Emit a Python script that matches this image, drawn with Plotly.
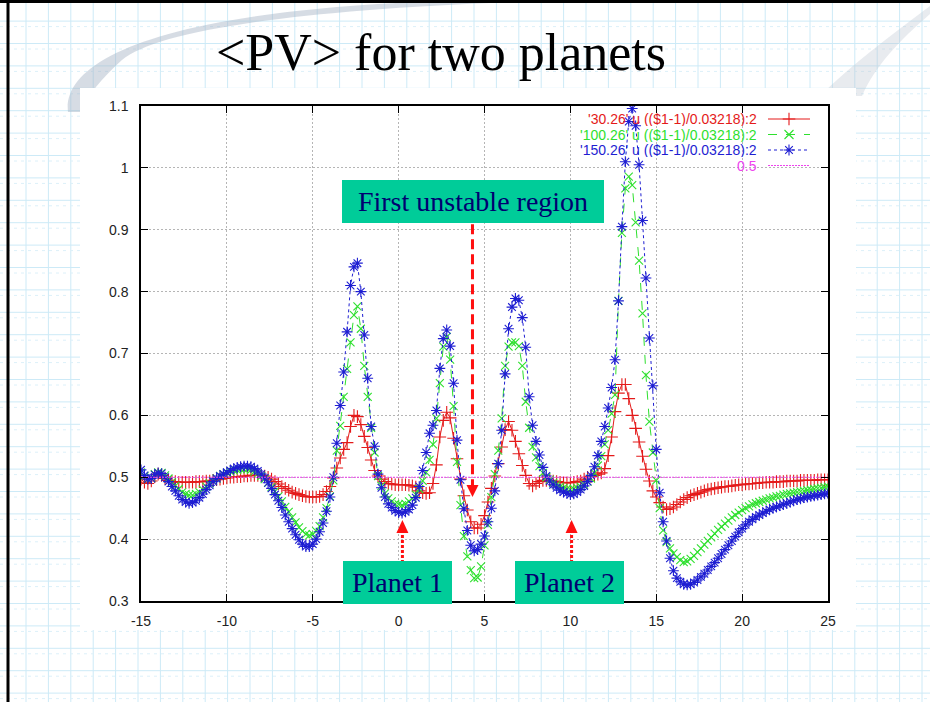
import numpy as np
import plotly.graph_objects as go

# ---------------- data ----------------
# x column: (($1-1)/0.03218), sampled every 0.2 from -15 to 25
x_start, x_step, n_pts = -15.0, 0.2, 201
x_vals = np.round(x_start + x_step * np.arange(n_pts), 1)

# '30.26' (red)
pv_30 = [
    0.497, 0.492, 0.490, 0.494, 0.501, 0.505, 0.503, 0.498, 0.495, 0.493,
    0.493, 0.492, 0.492, 0.492, 0.492, 0.492, 0.493, 0.493, 0.493, 0.494,
    0.494, 0.495, 0.496, 0.497, 0.498, 0.499, 0.500, 0.500, 0.501, 0.501,
    0.502, 0.502, 0.503, 0.503, 0.503, 0.503, 0.502, 0.500, 0.497, 0.493,
    0.489, 0.485, 0.482, 0.479, 0.476, 0.474, 0.472, 0.470, 0.469, 0.468,
    0.468, 0.468, 0.469, 0.472, 0.477, 0.485, 0.499, 0.515, 0.531, 0.545,
    0.556, 0.582, 0.600, 0.598, 0.585, 0.566, 0.548, 0.528, 0.511, 0.502,
    0.497, 0.493, 0.490, 0.489, 0.488, 0.488, 0.488, 0.488, 0.487, 0.486,
    0.484, 0.478, 0.475, 0.474, 0.475, 0.490, 0.520, 0.565, 0.592, 0.605,
    0.596, 0.563, 0.530, 0.497, 0.470, 0.447, 0.428, 0.418, 0.418, 0.424,
    0.438, 0.460, 0.482, 0.502, 0.522, 0.549, 0.577, 0.590, 0.576, 0.558,
    0.538, 0.519, 0.503, 0.490, 0.486, 0.490, 0.493, 0.495, 0.495, 0.495,
    0.494, 0.493, 0.492, 0.491, 0.491, 0.491, 0.492, 0.493, 0.494, 0.497,
    0.500, 0.501, 0.503, 0.505, 0.507, 0.514, 0.535, 0.565, 0.606, 0.636,
    0.650, 0.650, 0.627, 0.600, 0.579, 0.557, 0.534, 0.513, 0.494, 0.478,
    0.468, 0.459, 0.452, 0.448, 0.449, 0.452, 0.456, 0.460, 0.464, 0.467,
    0.470, 0.472, 0.474, 0.476, 0.478, 0.480, 0.481, 0.482, 0.483, 0.484,
    0.485, 0.485, 0.486, 0.487, 0.488, 0.488, 0.489, 0.489, 0.490, 0.490,
    0.491, 0.491, 0.492, 0.492, 0.492, 0.493, 0.493, 0.493, 0.494, 0.494,
    0.494, 0.494, 0.495, 0.495, 0.495, 0.495, 0.495, 0.496, 0.496, 0.496,
    0.496,
]

# '100.26' (green)
pv_100 = [
    0.508, 0.502, 0.497, 0.499, 0.505, 0.508, 0.507, 0.503, 0.498, 0.492,
    0.486, 0.481, 0.476, 0.473, 0.471, 0.471, 0.473, 0.476, 0.480, 0.485,
    0.490, 0.494, 0.498, 0.502, 0.505, 0.507, 0.509, 0.511, 0.512, 0.513,
    0.513, 0.513, 0.512, 0.509, 0.506, 0.502, 0.497, 0.491, 0.484, 0.477,
    0.469, 0.461, 0.452, 0.444, 0.435, 0.427, 0.419, 0.413, 0.408, 0.406,
    0.408, 0.413, 0.421, 0.435, 0.450, 0.469, 0.495, 0.543, 0.583, 0.630,
    0.675, 0.718, 0.762, 0.776, 0.740, 0.680, 0.630, 0.580, 0.540, 0.502,
    0.486, 0.474, 0.466, 0.461, 0.457, 0.456, 0.455, 0.457, 0.461, 0.466,
    0.472, 0.481, 0.494, 0.508, 0.528, 0.553, 0.595, 0.652, 0.711, 0.727,
    0.690, 0.615, 0.525, 0.455, 0.405, 0.372, 0.350, 0.337, 0.338, 0.356,
    0.390, 0.423, 0.468, 0.505, 0.543, 0.595, 0.680, 0.711, 0.718, 0.718,
    0.712, 0.680, 0.622, 0.580, 0.549, 0.532, 0.518, 0.507, 0.500, 0.496,
    0.491, 0.488, 0.485, 0.483, 0.481, 0.480, 0.481, 0.483, 0.485, 0.488,
    0.493, 0.498, 0.507, 0.519, 0.534, 0.553, 0.576, 0.603, 0.633, 0.785,
    0.895, 0.967, 0.986, 0.972, 0.912, 0.850, 0.765, 0.665, 0.590, 0.540,
    0.495, 0.450, 0.414, 0.395, 0.385, 0.377, 0.371, 0.366, 0.363, 0.364,
    0.368, 0.373, 0.379, 0.385, 0.391, 0.397, 0.403, 0.409, 0.415, 0.420,
    0.425, 0.430, 0.435, 0.439, 0.443, 0.447, 0.450, 0.453, 0.456, 0.458,
    0.460, 0.462, 0.464, 0.466, 0.467, 0.469, 0.470, 0.472, 0.473, 0.474,
    0.475, 0.476, 0.477, 0.478, 0.479, 0.480, 0.481, 0.482, 0.483, 0.484,
    0.485,
]

# '150.26' (blue)
pv_150 = [
    0.512, 0.503, 0.497, 0.498, 0.504, 0.507, 0.506, 0.500, 0.493, 0.485,
    0.478, 0.470, 0.464, 0.460, 0.458, 0.459, 0.462, 0.467, 0.473, 0.480,
    0.487, 0.493, 0.498, 0.502, 0.505, 0.508, 0.511, 0.514, 0.516, 0.517,
    0.518, 0.518, 0.517, 0.514, 0.510, 0.505, 0.499, 0.491, 0.482, 0.472,
    0.462, 0.451, 0.439, 0.428, 0.417, 0.407, 0.399, 0.392, 0.388, 0.388,
    0.392, 0.400, 0.412, 0.426, 0.445, 0.468, 0.500, 0.555, 0.616, 0.670,
    0.735, 0.810, 0.840, 0.846, 0.800, 0.730, 0.660, 0.582, 0.550, 0.505,
    0.483, 0.468, 0.457, 0.451, 0.446, 0.443, 0.442, 0.444, 0.448, 0.455,
    0.467, 0.485, 0.511, 0.540, 0.571, 0.584, 0.608, 0.676, 0.724, 0.738,
    0.712, 0.652, 0.560, 0.496, 0.449, 0.414, 0.390, 0.381, 0.383, 0.392,
    0.405, 0.428, 0.450, 0.478, 0.522, 0.576, 0.667, 0.740, 0.775, 0.789,
    0.786, 0.758, 0.710, 0.630, 0.584, 0.558, 0.536, 0.516, 0.502, 0.494,
    0.488, 0.483, 0.479, 0.476, 0.474, 0.472, 0.473, 0.476, 0.480, 0.486,
    0.493, 0.503, 0.517, 0.535, 0.558, 0.582, 0.612, 0.645, 0.690, 0.785,
    0.905, 1.010, 1.075, 1.096, 1.068, 1.005, 0.915, 0.822, 0.725, 0.648,
    0.545, 0.475, 0.428, 0.397, 0.369, 0.349, 0.337, 0.331, 0.327, 0.326,
    0.327, 0.330, 0.334, 0.339, 0.344, 0.350, 0.356, 0.362, 0.369, 0.376,
    0.383, 0.390, 0.397, 0.404, 0.411, 0.417, 0.423, 0.428, 0.432, 0.436,
    0.439, 0.442, 0.445, 0.448, 0.450, 0.452, 0.454, 0.456, 0.458, 0.460,
    0.462, 0.464, 0.465, 0.467, 0.468, 0.469, 0.470, 0.471, 0.472, 0.473,
    0.474,
]

# constant function "0.5"
ref_x = [-15, 25]
ref_y = [0.5, 0.5]

x_ticks = [-15, -10, -5, 0, 5, 10, 15, 20, 25]
x_tick_labels = ["-15", "-10", "-5", "0", "5", "10", "15", "20", "25"]
y_ticks = [0.3, 0.4, 0.5, 0.6, 0.7, 0.8, 0.9, 1.0, 1.1]
y_tick_labels = ["0.3", "0.4", "0.5", "0.6", "0.7", "0.8", "0.9", "1", "1.1"]

series_names = ["'30.26' u (($1-1)/0.03218):2",
                "'100.26' u (($1-1)/0.03218):2",
                "'150.26' u (($1-1)/0.03218):2",
                "0.5"]

title_text = "&lt;PV&gt; for two planets"
box_texts = ["First unstable region", "Planet 1", "Planet 2"]

assert len(pv_30) == len(pv_100) == len(pv_150) == n_pts

# ---------------- styling ----------------
RED, GREEN, BLUE, MAG = "#e41a1a", "#2ee02e", "#1e1ed2", "#ee44ee"
TEAL, NAVY = "#00cc99", "#000070"
W, H = 930, 702
L, R, T, B = 141, 828, 106, 601  # plot area in pixels


def PX(p):
    return (p - L) / (R - L)


def PY(p):
    return (B - p) / (B - T)


fig = go.Figure()

styles = [
    (pv_30, RED, "solid", "cross-thin-open", 9),
    (pv_100, GREEN, "dash", "x-thin-open", 8),
    (pv_150, BLUE, "dot", "asterisk-open", 9),
]
for ys, col, dash, sym, size in styles:
    fig.add_trace(go.Scatter(
        x=x_vals, y=ys, mode="lines+markers",
        line=dict(color=col, width=1, dash=dash),
        marker=dict(symbol=sym, size=size, color=col,
                    line=dict(color=col, width=1.1)),
        showlegend=False, hoverinfo="skip"))

fig.add_trace(go.Scatter(x=ref_x, y=ref_y, mode="lines",
                         line=dict(color=MAG, width=1, dash="2px,1px"),
                         showlegend=False, hoverinfo="skip"))

# ---------------- gnuplot-style key (text left, sample right) ----------------
key_rows = [PY(119), PY(134.5), PY(150), PY(165.5)]
key_cols = [RED, GREEN, BLUE, MAG]
key_dash = ["solid", "dash", "dot", "2px,1px"]
key_sym = ["cross-thin-open", "x-thin-open", "asterisk-open", None]
x_l, x_r, x_m = PX(768), PX(810), PX(789)
annotations = []
for name, yk, col, dsh, sym in zip(series_names, key_rows, key_cols, key_dash, key_sym):
    annotations.append(dict(text=name, x=PX(758), y=yk, xref="paper", yref="paper",
                            xanchor="right", yanchor="middle", showarrow=False,
                            borderpad=0, height=14,
                            font=dict(family="Liberation Sans, Arial", size=14, color=col)))
    fig.add_trace(go.Scatter(x=[x_l, x_r], y=[yk, yk], xaxis="x2", yaxis="y2",
                             mode="lines", line=dict(color=col, width=1, dash=dsh),
                             showlegend=False, hoverinfo="skip"))
    if sym:
        fig.add_trace(go.Scatter(x=[x_m], y=[yk], xaxis="x2", yaxis="y2", mode="markers",
                                 marker=dict(symbol=sym, size=9, color=col,
                                             line=dict(color=col, width=1.1)),
                                 showlegend=False, hoverinfo="skip"))

# ---------------- teal text boxes ----------------
boxes = [
    (box_texts[0], (342 + 604) / 2, (180 + 223) / 2, 262, 43),
    (box_texts[1], (343 + 452) / 2, (561 + 604) / 2, 109, 43),
    (box_texts[2], (515 + 624) / 2, (561 + 604) / 2, 109, 43),
]
for txt, cx, cy, bw, bh in boxes:
    annotations.append(dict(text=txt, x=PX(cx), y=PY(cy), xref="paper", yref="paper",
                            xanchor="center", yanchor="middle", showarrow=False,
                            width=bw, height=bh, bgcolor=TEAL, borderpad=0, borderwidth=0,
                            align="center", valign="middle",
                            font=dict(family="Liberation Serif, Times New Roman", size=28,
                                      color=NAVY)))

# ---------------- background shapes (slide) ----------------
shapes = []
grid_col = "#cdeaf7"
gx = 26.0
while gx < W:
    shapes.append(dict(type="line", xref="paper", yref="paper", layer="below",
                       x0=PX(gx), x1=PX(gx), y0=PY(0), y1=PY(H),
                       line=dict(color=grid_col, width=1)))
    gx += 22.4
gy = 21.1
while gy < H:
    shapes.append(dict(type="line", xref="paper", yref="paper", layer="below",
                       x0=PX(0), x1=PX(W), y0=PY(gy), y1=PY(gy),
                       line=dict(color=grid_col, width=1)))
    shapes.append(dict(type="line", xref="paper", yref="paper", layer="below",
                       x0=PX(0), x1=PX(W), y0=PY(gy + 5.5), y1=PY(gy + 5.5),
                       line=dict(color="#dcf0f9", width=1, dash="3px,4px")))
    gy += 22.4


def pth(cmds):
    out = []
    for c in cmds:
        if isinstance(c, str):
            out.append(c)
        else:
            out.append(f"{PX(c[0]):.4f},{PY(c[1]):.4f}")
    return " ".join(out)


swoosh = pth(["M", (68, 112), "C", (62, 60), (160, 8), (470, 0), "L", (585, 0),
              "C", (320, 6), (160, 28), (122, 60), "C", (100, 80), (88, 95), (82, 112), "Z"])
shapes.append(dict(type="path", xref="paper", yref="paper", layer="below", path=swoosh,
                   fillcolor="rgba(165,178,196,0.45)", line=dict(width=0)))
swoosh2 = pth(["M", (930, 14), "C", (900, 40), (875, 66), (862, 96), "L", (820, 96),
               "C", (850, 66), (890, 36), (930, 6), "Z"])
shapes.append(dict(type="path", xref="paper", yref="paper", layer="below", path=swoosh2,
                   fillcolor="rgba(190,198,210,0.35)", line=dict(width=0)))

# white panel behind the chart
shapes.append(dict(type="rect", xref="paper", yref="paper", layer="below",
                   x0=PX(80), x1=PX(856), y0=PY(88), y1=PY(630),
                   fillcolor="white", line=dict(width=0)))
# slide border
shapes.append(dict(type="line", xref="paper", yref="paper", layer="below",
                   x0=PX(0), x1=PX(W), y0=PY(1.5), y1=PY(1.5),
                   line=dict(color="black", width=3)))
shapes.append(dict(type="line", xref="paper", yref="paper", layer="below",
                   x0=PX(8), x1=PX(8), y0=PY(0), y1=PY(H),
                   line=dict(color="black", width=3)))

# ---------------- red arrows ----------------
hw = 6 / ((R - L) / 40.0)  # half width of arrow head in data units
arrows = [
    (4.3, 0.909, 0.4874, 0.468, "10px,5px", 3),
    (0.22, 0.3533, 0.4099, 0.4309, "3px,2px", 3),
    (10.07, 0.3533, 0.4099, 0.4309, "3px,2px", 3),
]
for ax_, ys_, yb_, yt_, dsh, wd in arrows:
    shapes.append(dict(type="line", xref="x", yref="y", layer="above",
                       x0=ax_, x1=ax_, y0=ys_, y1=yb_,
                       line=dict(color="#ff1010", width=wd, dash=dsh)))
    shapes.append(dict(type="path", xref="x", yref="y", layer="above",
                       path=f"M {ax_ - hw},{yb_} L {ax_ + hw},{yb_} L {ax_},{yt_} Z",
                       fillcolor="#ff1010", line=dict(width=0)))

tick_font = dict(family="Liberation Sans, Arial", size=14, color="#222222")
fig.update_layout(
    width=W, height=H, autosize=False,
    margin=dict(l=L, r=W - R, t=T, b=H - B, pad=0),
    paper_bgcolor="white", plot_bgcolor="rgba(0,0,0,0)",
    showlegend=False,
    title=dict(text=title_text, x=PX(441), xref="paper", xanchor="center",
               y=1 - 52 / H, yref="container", yanchor="middle",
               font=dict(family="Liberation Serif, Times New Roman", size=52, color="black")),
    xaxis=dict(range=[-15, 25], tickvals=x_ticks, ticktext=x_tick_labels,
               showline=True, linecolor="black", linewidth=1.5, mirror="allticks",
               ticks="inside", ticklen=7, tickcolor="black", tickwidth=1,
               showgrid=True, gridcolor="#b5b5b5", griddash="2px,2px", gridwidth=1,
               zeroline=False, tickfont=tick_font, ticklabelstandoff=6),
    yaxis=dict(range=[0.3, 1.1], tickvals=y_ticks, ticktext=y_tick_labels,
               showline=True, linecolor="black", linewidth=1.5, mirror="allticks",
               ticks="inside", ticklen=7, tickcolor="black", tickwidth=1,
               showgrid=True, gridcolor="#b5b5b5", griddash="2px,2px", gridwidth=1,
               zeroline=False, tickfont=tick_font, ticklabelstandoff=8),
    xaxis2=dict(overlaying="x", range=[0, 1], visible=False, fixedrange=True),
    yaxis2=dict(overlaying="y", range=[0, 1], visible=False, fixedrange=True),
    shapes=shapes,
    annotations=annotations,
)

fig.write_html("out.html", config={"displayModeBar": False},
               post_script="document.body.style.margin='0px';document.body.style.overflow='hidden';")
